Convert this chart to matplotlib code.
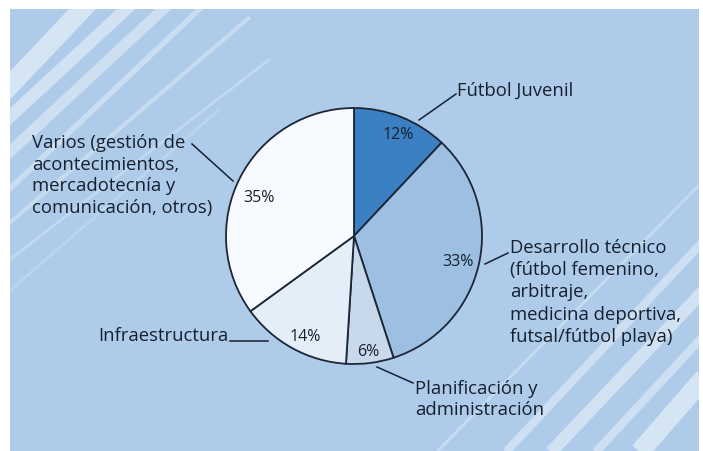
import matplotlib
matplotlib.use("Agg")
import matplotlib.pyplot as plt
from matplotlib.patches import Rectangle

# data
labels = ["Fútbol Juvenil",
          "Desarrollo técnico\n(fútbol femenino,\narbitraje,\nmedicina deportiva,\nfutsal/fútbol playa)",
          "Planificación y\nadministración",
          "Infraestructura",
          "Varios (gestión de\nacontecimientos,\nmercadotecnía y\ncomunicación, otros)"]
shares = [12, 33, 6, 14, 35]
pct_labels = ["12%", "33%", "6%", "14%", "35%"]
colors = ["#3a80c2", "#9dbfe2", "#c9d9ec", "#e3eef9", "#f7fbff"]

W, H = 703, 452
ink = "#17202e"
plt.rcParams['font.family'] = ['Open Sans', 'DejaVu Sans']

fig = plt.figure(figsize=(W / 100, H / 100), dpi=100)
ax = fig.add_axes([0, 0, 1, 1])
ax.set_xlim(0, W)
ax.set_ylim(0, H)
ax.axis("off")


def Y(y):
    # image row -> data y
    return H - y


# panel background
panel = Rectangle((10, 0), 689, Y(10), facecolor="#aecbea", edgecolor="none", zorder=0)
ax.add_patch(panel)

# decorative stripes (image coords: x0, y0, x1, y1, width, alpha)
stripes = [
    (0, 97, 92, 0, 14, 0.5),
    (0, 127, 137, 0, 9, 0.45),
    (0, 162, 174, 0, 8, 0.4),
    (0, 199, 210, 0, 4, 0.35),
    (0, 232, 250, 18, 3, 0.3),
    (0, 268, 270, 60, 2, 0.25),
    (0, 300, 220, 110, 2, 0.18),
    (420, 470, 710, 175, 2, 0.3),
    (490, 470, 710, 235, 6, 0.4),
    (535, 470, 710, 285, 9, 0.45),
    (580, 470, 710, 330, 6, 0.4),
    (625, 470, 710, 372, 14, 0.5),
]
for x0, y0, x1, y1, lw, a in stripes:
    ln, = ax.plot([x0, x1], [Y(y0), Y(y1)], color="white", lw=lw, alpha=a,
                  solid_capstyle="butt", zorder=1)
    ln.set_clip_path(panel)

cx, cy, r = 354, 237, 128
wedges, _ = ax.pie(shares, colors=colors, startangle=90, counterclock=False,
                   center=(cx, Y(cy)), radius=r, frame=True,
                   wedgeprops=dict(edgecolor="#1d2636", linewidth=1.3))
for w in wedges:
    w.set_zorder(3)
ax.set_xlim(0, W)
ax.set_ylim(0, H)
ax.axis("off")

# percent labels
pct_pos = [(398, 135), (458, 262), (368, 352), (305, 337), (259, 198)]
for t, (x, y) in zip(pct_labels, pct_pos):
    ax.text(x, Y(y), t, ha="center", va="center", fontsize=11.5, color=ink,
            family=['Liberation Sans Narrow', 'Open Sans', 'DejaVu Sans'], zorder=4)

# outer labels
fs = 13.3
ls = 1.3
ax.text(457, Y(91), labels[0], ha="left", va="center", fontsize=fs, color=ink, zorder=4)
ax.text(510, Y(239), labels[1], ha="left", va="top", fontsize=fs, color=ink,
        linespacing=ls, zorder=4)
ax.text(415, Y(380), labels[2], ha="left", va="top", fontsize=fs, color=ink,
        linespacing=1.22, zorder=4)
ax.text(98, Y(336), labels[3], ha="left", va="center", fontsize=fs, color=ink, zorder=4)
ax.text(32, Y(134), labels[4], ha="left", va="top", fontsize=fs, color=ink,
        linespacing=1.25, zorder=4)

# leader lines
leaders = [
    ((419, 121), (456, 95)),
    ((485, 265), (508, 254)),
    ((377, 368), (413, 384)),
    ((230, 342), (268, 342)),
    ((192, 145), (233, 182)),
]
for (x0, y0), (x1, y1) in leaders:
    ax.plot([x0, x1], [Y(y0), Y(y1)], color=ink, lw=1.1, zorder=2)

fig.savefig("out.png", dpi=100, facecolor="white")
